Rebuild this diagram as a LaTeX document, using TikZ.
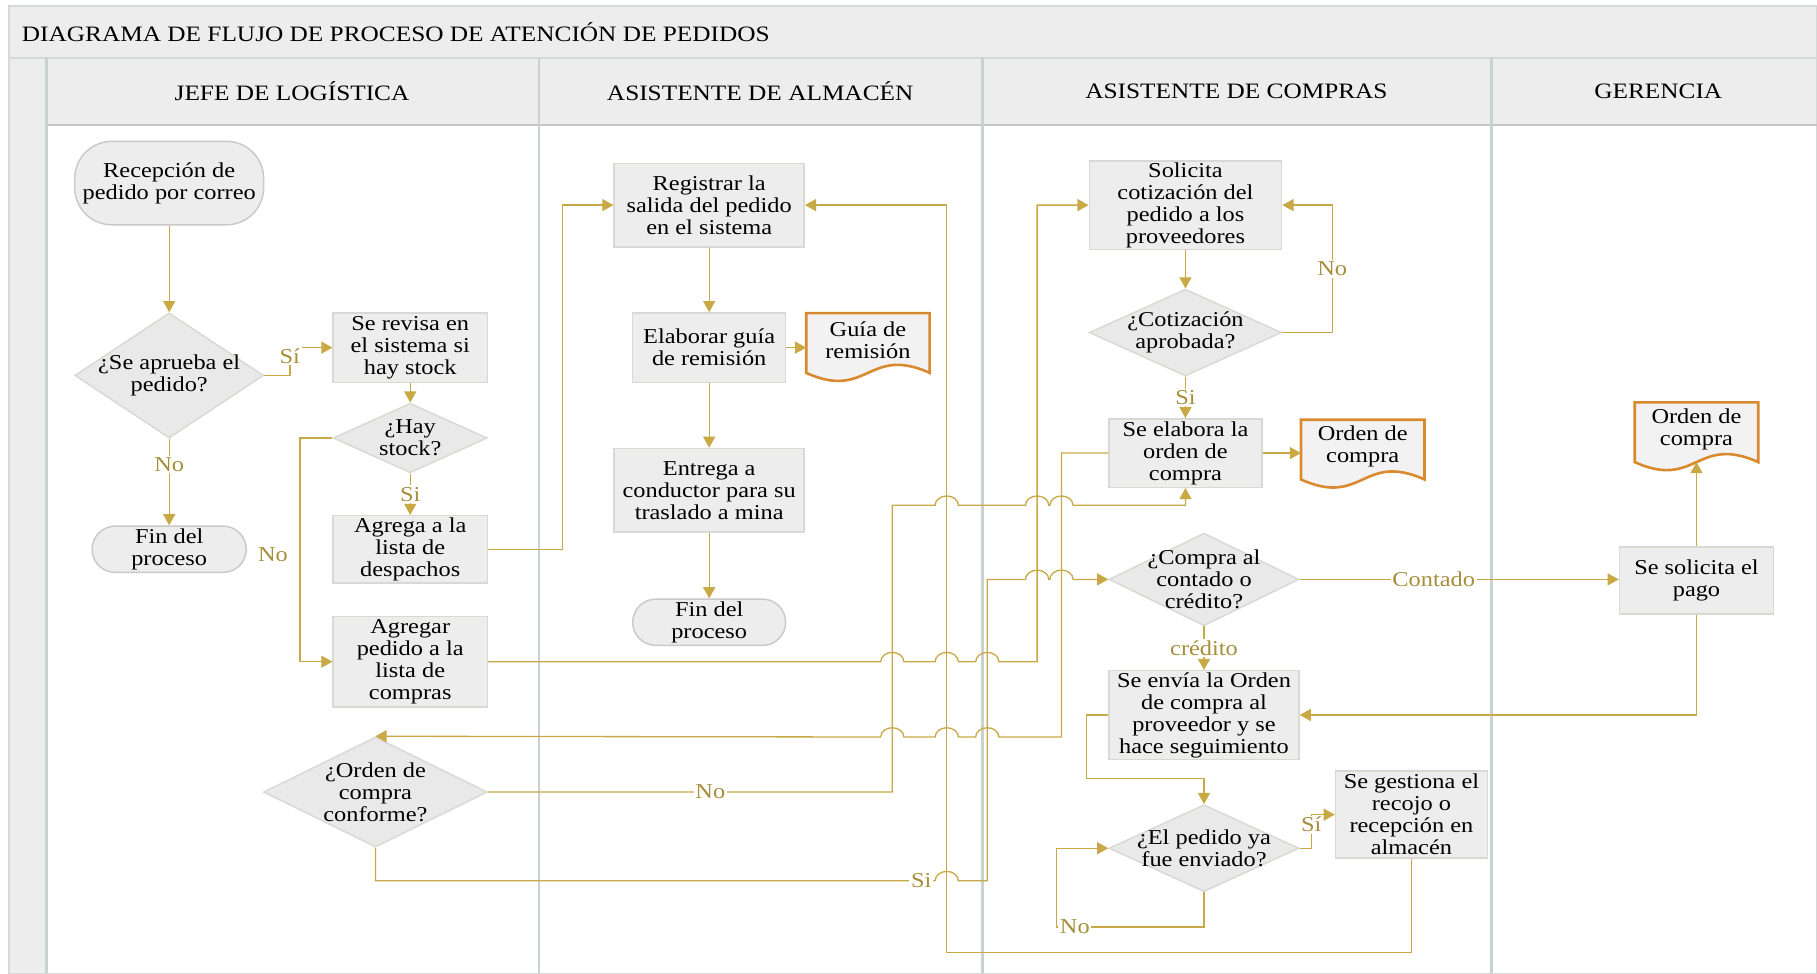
\documentclass[tikz,border=0pt]{standalone}
\usepackage{fontspec}
\setmainfont{Liberation Serif}[FakeStretch=1.15]
\usepackage{xcolor}
\usepackage{tikz}
\usetikzlibrary{shapes.geometric, arrows.meta, positioning, calc}

% line jumps over vertical connectors
\newcommand{\hopR}[2]{-- (#1-10,#2) arc[start angle=180, end angle=0, x radius=0.25cm, y radius=0.2cm]}
\newcommand{\hopL}[2]{-- (#1+10,#2) arc[start angle=0, end angle=180, x radius=0.25cm, y radius=0.2cm]}

% document symbol: sized box, wavy outline, text on top
\newcommand{\docnode}[4]{%
    \node[docbox] (#1) at (#2,#3) {};
    \filldraw[docline] (#1.south west) -- (#1.north west) -- (#1.north east) -- (#1.south east)
        .. controls ($(#1.south)+(0,0.6cm)$) and ($(#1.south)+(0,-0.6cm)$) .. (#1.south west) -- cycle;
    \node[doctext] (#1-t) at ([yshift=2pt]#1.center) {#4};
}

\begin{document}
\begin{tikzpicture}[x=0.025cm, y=-0.025cm,
    font=\fontsize{13}{13.5}\selectfont,
    sz/.style 2 args={minimum width=#1*0.025cm, minimum height=#2*0.025cm},
    proceso/.style={rectangle, draw=boxline, line width=0.9pt, fill=boxfill, align=center, inner sep=1pt},
    decision/.style={diamond, draw=boxline, line width=0.9pt, fill=diafill, align=center, inner xsep=-25pt, inner ysep=-12pt},
    terminal/.style={rectangle, rounded corners=0.5cm, draw=termline, line width=0.9pt, fill=boxfill, align=center, inner sep=1pt},
    docbox/.style={rectangle, sz={106}{51}, inner sep=0pt},
    doctext/.style={align=center, inner sep=0pt},
    docline/.style={draw=docorange, line width=1.6pt, fill=docfill},
    flow/.style={draw=flowgold, line width=0.8pt, -{Triangle[length=0.24cm, width=0.26cm]}},
    lbl/.style={text=lblgold, fill=white, inner sep=1pt},
    lanehead/.style={font=\fontsize{13.5}{15}\selectfont},
    laneline/.style={draw=laneblue, line width=1.6pt},
    frameline/.style={draw=framegray, line width=1pt}]

    \definecolor{flowgold}{HTML}{C9A946}
    \definecolor{lblgold}{HTML}{A68E3B}
    \definecolor{boxfill}{HTML}{EDEDED}
    \definecolor{boxline}{HTML}{D9D9D4}
    \definecolor{diafill}{HTML}{E9E9E9}
    \definecolor{termline}{HTML}{C9C9C9}
    \definecolor{docfill}{HTML}{F2F2F2}
    \definecolor{docorange}{HTML}{D98A2E}
    \definecolor{headfill}{HTML}{EDEDED}
    \definecolor{laneblue}{HTML}{C8D3D1}
    \definecolor{framegray}{HTML}{D5D9D9}

    \useasboundingbox (0,0) rectangle (1568,840);

    % Pool and lanes
    \fill[white] (8,5) rectangle (1568,840);
    \fill[headfill] (8,5) rectangle (1568,50);
    \fill[headfill] (8,50) rectangle (40,840);
    \fill[headfill] (40,50) rectangle (1568,108);
    \draw[frameline] (8,5) rectangle (1568,840);
    \draw[frameline] (8,50) -- (1568,50);
    \draw[frameline, draw=gray!45] (40,108) -- (1568,108);
    \foreach \x in {40, 465, 848, 1287} {
        \draw[laneline] (\x,50) -- (\x,840);
    }
    \node[lanehead, anchor=west] (titulo) at (14,28) {DIAGRAMA DE FLUJO DE PROCESO DE ATENCIÓN DE PEDIDOS};
    \node[lanehead] (hjefe) at (252,79) {JEFE DE LOGÍSTICA};
    \node[lanehead] (halmacen) at (656,79) {ASISTENTE DE ALMACÉN};
    \node[lanehead] (hcompras) at (1067,79) {ASISTENTE DE COMPRAS};
    \node[lanehead] (hgerencia) at (1431,79) {GERENCIA};

    % Jefe de logistica
    \node[terminal, rounded corners=0.8cm, sz={163}{72}] (recep) at (146,158) {Recepción de\\pedido por correo};
    \node[decision, sz={163}{108}] (aprueba) at (146,324) {¿Se aprueba el\\pedido?};
    \node[terminal, sz={133}{40}] (fin1) at (146,474) {Fin del\\proceso};
    \node[proceso, sz={133}{60}] (revisa) at (354,300) {Se revisa en\\el sistema si\\hay stock};
    \node[decision, sz={133}{60}] (stock) at (354,378) {¿Hay\\stock?};
    \node[proceso, sz={133}{58}] (despacho) at (354,474) {Agrega a la\\lista de\\despachos};
    \node[proceso, sz={133}{78}] (listacomp) at (354,571) {Agregar\\pedido a la\\lista de\\compras};
    \node[decision, sz={193}{95}] (conforme) at (324,683.5) {¿Orden de\\compra\\conforme?};

    % Asistente de almacen
    \node[proceso, sz={164}{72}] (registrar) at (612,177) {Registrar la\\salida del pedido\\en el sistema};
    \node[proceso, sz={132}{60}] (guiaelab) at (612,300) {Elaborar guía\\de remisión};
    \docnode{guia}{749}{296}{Guía de\\remisión}
    \node[proceso, sz={164}{72}] (entrega) at (612,423) {Entrega a\\conductor para su\\traslado a mina};
    \node[terminal, sz={132}{40}] (fin2) at (612,537) {Fin del\\proceso};

    % Asistente de compras
    \node[proceso, sz={166}{73}] (cotizar) at (1023,177) {Solicita\\cotización del\\pedido a los\\proveedores};
    \node[decision, sz={166}{75}] (aprobada) at (1023,287) {¿Cotización\\aprobada?};
    \node[proceso, sz={132}{59}] (elabora) at (1023,391) {Se elabora la\\orden de\\compra};
    \docnode{orden1}{1176}{388}{Orden de\\compra}
    \node[decision, sz={164}{80}] (contado) at (1039,500) {¿Compra al\\contado o\\crédito?};
    \node[proceso, sz={164}{75}] (envia) at (1039,617) {Se envía la Orden\\de compra al\\proveedor y se\\hace seguimiento};
    \node[decision, sz={164}{75}] (enviado) at (1039,732) {¿El pedido ya\\fue enviado?};
    \node[proceso, sz={131}{75}] (gestiona) at (1218,703) {Se gestiona el\\recojo o\\recepción en\\almacén};

    % Gerencia
    \docnode{orden2}{1464}{373}{Orden de\\compra}
    \node[proceso, sz={133}{58}] (pago) at (1464,501) {Se solicita el\\pago};

    % Connectors, logistica and almacen
    \draw[flow] (recep) -- (aprueba);
    \draw[flow] (aprueba.east) -- ++(22,0) |- node[lbl, pos=0.35] (l1) {Sí} (revisa.west);
    \draw[flow] (aprueba) -- node[lbl, pos=0.3] (l2) {No} (fin1);
    \draw[flow] (revisa) -- (stock);
    \draw[flow] (stock) -- node[lbl] (l3) {Si} (despacho);
    \draw[flow] (stock.west) -- ++(-28,0) |- node[lbl, fill=none, pos=0.26, anchor=east, xshift=-6pt] (l4) {No} (listacomp.west);
    \draw[flow] (despacho.east) -- ++(64,0) |- (registrar.west);
    \draw[flow] (registrar) -- (guiaelab);
    \draw[flow] (guiaelab.east) -- (guiaelab.east -| guia.west);
    \draw[flow] (guiaelab) -- (entrega);
    \draw[flow] (entrega) -- (fin2);

    % Connectors crossing the lanes
    \draw[flow] (listacomp.east) \hopR{770}{571} \hopR{817}{571} \hopR{852}{571} -- (895,571) |- (cotizar.west);
    \draw[flow] (conforme.east) -- node[lbl, pos=0.55] (l5) {No} (770,683.5) -- (770,436)
        \hopR{817}{436} \hopR{895}{436} \hopR{916}{436} -- (1023,436) -- (elabora.south);
    \draw[flow] (conforme.south) -- (324,760) -- node[lbl, pos=0.975] (l6) {Si} (807,760)
        arc[start angle=180, end angle=0, x radius=0.25cm, y radius=0.2cm] -- (852,760) -- (852,500)
        \hopR{895}{500} \hopR{916}{500} -- (contado.west);
    \draw[flow] (elabora.west) -- (916,391) -- (916,636) \hopL{852}{636} \hopL{817}{636} \hopL{770}{636} -- (conforme.north);
    \draw[flow] (gestiona.south) |- (817,822) -- (817,177) -- (registrar.east);

    % Connectors, compras and gerencia
    \draw[flow] (cotizar) -- (aprobada);
    \draw[flow] (aprobada.east) -- ++(43,0) |- node[lbl, pos=0.25] (l7) {No} (cotizar.east);
    \draw[flow] (aprobada) -- node[lbl] (l8) {Si} (elabora);
    \draw[flow] (elabora.east) -- (elabora.east -| orden1.west);
    \draw[flow] (contado.east) -- node[lbl, pos=0.42] (l9) {Contado} (contado.east -| pago.west);
    \draw[flow] (contado) -- node[lbl] (l10) {crédito} (envia);
    \draw[flow] (envia.west) -- ++(-19,0) -- ++(0,55) -| (enviado.north);
    \draw[flow] (enviado.east) -- ++(10,0) |- node[lbl, pos=0.35] (l11) {Sí} (gestiona.west);
    \draw[flow] (enviado.south) |- (912,800) |- (enviado.west);
    \node[lbl, anchor=west] (l12) at (913,800) {No};
    \draw[flow] (pago) -- (orden2.south);
    \draw[flow] (pago.south) |- (envia.east);
\end{tikzpicture}
\end{document}
